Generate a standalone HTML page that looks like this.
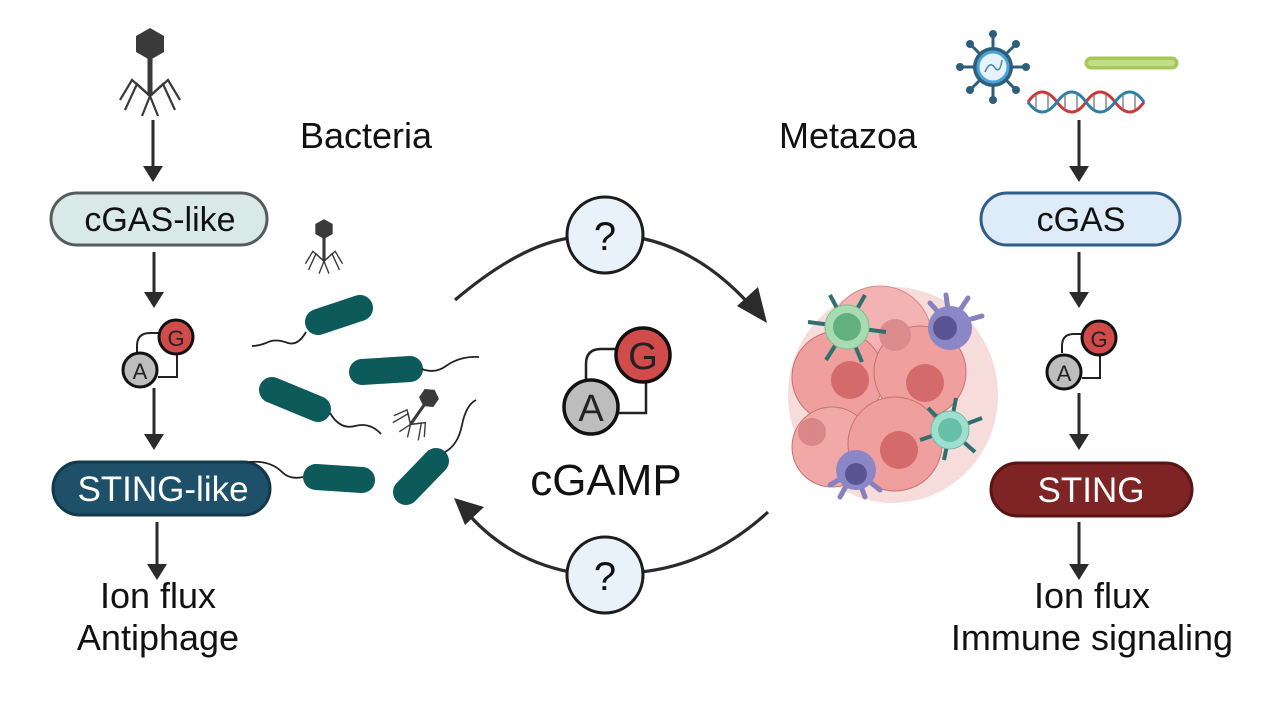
<!DOCTYPE html>
<html><head><meta charset="utf-8"><style>
html,body{margin:0;padding:0;background:#fff;}
svg{display:block;}
text{font-family:"Liberation Sans",Arial,sans-serif;}
</style></head><body>
<svg width="1280" height="720" viewBox="0 0 1280 720" xmlns="http://www.w3.org/2000/svg">
<defs>
<g id="phage">
  <polygon points="0,-16 14,-8 14,8 0,16 -14,8 -14,-8" fill="#3a3a3a"/>
  <rect x="-2.5" y="14" width="5" height="38" fill="#3a3a3a"/>
  <g stroke="#3a3a3a" stroke-width="2.2" fill="none">
    <path d="M0,52 L-18,36 L-30,56"/><path d="M0,52 L-13,40 L-25,66"/><path d="M0,52 L-8,72"/>
    <path d="M0,52 L18,36 L30,56"/><path d="M0,52 L13,40 L25,66"/><path d="M0,52 L8,72"/>
  </g>
</g>
</defs>

<!-- LEFT COLUMN -->
<use href="#phage" transform="translate(150,44)"/>
<g fill="#2b2b2b" stroke="#2b2b2b">
  <line x1="153" y1="120" x2="153" y2="168" stroke-width="3"/>
  <polygon points="143,166 163,166 153,182" stroke="none"/>
  <line x1="154" y1="252" x2="154" y2="294" stroke-width="3"/>
  <polygon points="144,292 164,292 154,308" stroke="none"/>
  <line x1="154" y1="388" x2="154" y2="436" stroke-width="3"/>
  <polygon points="144,434 164,434 154,450" stroke="none"/>
  <line x1="157" y1="522" x2="157" y2="566" stroke-width="3"/>
  <polygon points="147,564 167,564 157,580" stroke="none"/>
</g>
<rect x="51" y="193" width="216" height="52" rx="26" fill="#d9e9e7" stroke="#555c5c" stroke-width="3"/>
<text x="160" y="231" font-size="34" text-anchor="middle" fill="#111">cGAS-like</text>
<!-- small cGAMP left -->
<path d="M137,352 L137,346 Q137,333 150,333 L158,333" fill="none" stroke="#222" stroke-width="2"/>
<path d="M177,355 L177,377 L158,377" fill="none" stroke="#222" stroke-width="2"/>
<circle cx="176" cy="337" r="17" fill="#d14b4b" stroke="#111" stroke-width="3"/>
<text x="176" y="346" font-size="22" text-anchor="middle" fill="#222">G</text>
<circle cx="140" cy="370" r="17" fill="#bdbdbd" stroke="#111" stroke-width="3"/>
<text x="140" y="379" font-size="22" text-anchor="middle" fill="#222">A</text>
<rect x="53" y="462" width="217" height="53" rx="26.5" fill="#1e5069" stroke="#12384a" stroke-width="3"/>
<text x="163" y="501" font-size="35" text-anchor="middle" fill="#fff">STING-like</text>
<text x="158" y="608" font-size="36" text-anchor="middle" fill="#111">Ion flux</text>
<text x="158" y="650" font-size="36" text-anchor="middle" fill="#111">Antiphage</text>

<text x="300" y="148" font-size="36" fill="#111">Bacteria</text>
<text x="779" y="148" font-size="36" fill="#111">Metazoa</text>

<!-- bacteria -->
<g stroke="#0d5a5a" stroke-linecap="round" stroke-width="26">
  <line x1="318" y1="322" x2="360" y2="308"/>
  <line x1="362" y1="372" x2="410" y2="369"/>
  <line x1="272" y1="390" x2="318" y2="409"/>
  <line x1="316" y1="477" x2="362" y2="480"/>
  <line x1="406" y1="492" x2="436" y2="461"/>
</g>
<g stroke="#222" stroke-width="1.8" fill="none">
  <path d="M306,332 Q298,346 288,343 Q275,338 266,343 Q258,346 252,346"/>
  <path d="M422,369 Q435,374 446,366 Q460,356 479,357"/>
  <path d="M330,413 Q340,430 355,426 Q370,422 381,434"/>
  <path d="M303,477 Q290,480 282,472 Q270,460 249,462"/>
  <path d="M445,452 Q458,445 462,425 Q466,405 476,400"/>
</g>
<use href="#phage" transform="translate(324,229) scale(0.62)"/>
<use href="#phage" transform="translate(429,398) rotate(35) scale(0.62)"/>

<!-- center cycle -->
<path d="M455,300 Q520,245 570,238" fill="none" stroke="#2b2b2b" stroke-width="3.2"/>
<path d="M640,238 Q700,250 750,305" fill="none" stroke="#2b2b2b" stroke-width="3.2"/>
<polygon points="767,323 737,306 758,287" fill="#2b2b2b"/>
<path d="M768,512 Q710,565 640,572" fill="none" stroke="#2b2b2b" stroke-width="3.2"/>
<path d="M570,572 Q510,560 470,516" fill="none" stroke="#2b2b2b" stroke-width="3.2"/>
<polygon points="454,498 484,507 465,525" fill="#2b2b2b"/>
<circle cx="605" cy="235" r="38" fill="#e9f2fb" stroke="#1c1c1c" stroke-width="3"/>
<text x="605" y="250" font-size="40" text-anchor="middle" fill="#111">?</text>
<circle cx="605" cy="575" r="38" fill="#e9f2fb" stroke="#1c1c1c" stroke-width="3"/>
<text x="605" y="590" font-size="40" text-anchor="middle" fill="#111">?</text>

<!-- big cGAMP -->
<path d="M586,380 L586,364 Q586,349 601,349 L616,349" fill="none" stroke="#222" stroke-width="2.5"/>
<path d="M646,382 L646,413 L619,413" fill="none" stroke="#222" stroke-width="2.5"/>
<circle cx="643" cy="355" r="27" fill="#d14b4b" stroke="#111" stroke-width="3.5"/>
<text x="643" y="369" font-size="38" text-anchor="middle" fill="#222">G</text>
<circle cx="591" cy="407" r="27" fill="#bdbdbd" stroke="#111" stroke-width="3.5"/>
<text x="591" y="421" font-size="38" text-anchor="middle" fill="#222">A</text>
<text x="606" y="495" font-size="44" text-anchor="middle" fill="#111">cGAMP</text>

<!-- tumor cluster -->
<g>
  <ellipse cx="893" cy="395" rx="105" ry="108" fill="#f7dcdc"/>
  <circle cx="880" cy="338" r="52" fill="#f3b3b2" stroke="#d88" stroke-width="1"/>
  <circle cx="838" cy="377" r="46" fill="#ef9f9e" stroke="#c87070" stroke-width="1"/>
  <circle cx="920" cy="372" r="46" fill="#ef9f9e" stroke="#c87070" stroke-width="1"/>
  <circle cx="832" cy="447" r="40" fill="#f1a9a8" stroke="#c87070" stroke-width="1"/>
  <circle cx="895" cy="444" r="47" fill="#ef9f9e" stroke="#c87070" stroke-width="1"/>
  <circle cx="850" cy="380" r="19" fill="#d46a6a"/>
  <circle cx="925" cy="383" r="19" fill="#d46a6a"/>
  <circle cx="899" cy="450" r="19" fill="#d46a6a"/>
  <circle cx="812" cy="432" r="14" fill="#d98686"/>
  <circle cx="895" cy="335" r="16" fill="#dc8c8c"/>
  <g stroke="#2e6f70" stroke-width="4">
    <line x1="847" y1="327" x2="830" y2="295"/><line x1="847" y1="327" x2="865" y2="295"/>
    <line x1="847" y1="327" x2="808" y2="322"/><line x1="847" y1="327" x2="886" y2="332"/>
    <line x1="847" y1="327" x2="826" y2="360"/><line x1="847" y1="327" x2="862" y2="362"/>
  </g>
  <circle cx="847" cy="327" r="22" fill="#a8dcb0" stroke="#7fbf8f" stroke-width="1"/>
  <circle cx="847" cy="327" r="14" fill="#62b07e"/>
  <g stroke="#8880c0" stroke-width="5" stroke-linecap="round">
    <line x1="950" y1="325" x2="930" y2="303"/><line x1="950" y1="325" x2="946" y2="295"/>
    <line x1="950" y1="325" x2="968" y2="298"/><line x1="950" y1="325" x2="982" y2="316"/>
    <line x1="855" y1="470" x2="830" y2="485"/><line x1="855" y1="470" x2="840" y2="497"/>
    <line x1="855" y1="470" x2="865" y2="497"/><line x1="855" y1="470" x2="880" y2="490"/>
  </g>
  <circle cx="950" cy="328" r="22" fill="#8b87c7"/>
  <circle cx="945" cy="328" r="12" fill="#5a5592"/>
  <circle cx="856" cy="470" r="20" fill="#8b87c7"/>
  <circle cx="856" cy="474" r="11" fill="#5a5592"/>
  <g stroke="#2e6f70" stroke-width="4">
    <line x1="950" y1="430" x2="928" y2="408"/><line x1="950" y1="430" x2="956" y2="398"/>
    <line x1="950" y1="430" x2="982" y2="418"/><line x1="950" y1="430" x2="975" y2="452"/>
    <line x1="950" y1="430" x2="944" y2="460"/><line x1="950" y1="430" x2="920" y2="440"/>
  </g>
  <circle cx="950" cy="430" r="19" fill="#9ee0cf" stroke="#6cbca8" stroke-width="1"/>
  <circle cx="950" cy="430" r="12" fill="#68bfa7"/>
</g>

<!-- RIGHT COLUMN -->
<g stroke="#2f5e7a" stroke-width="3">
  <line x1="993" y1="67" x2="993" y2="34"/><line x1="993" y1="67" x2="993" y2="100"/>
  <line x1="993" y1="67" x2="960" y2="67"/><line x1="993" y1="67" x2="1026" y2="67"/>
  <line x1="993" y1="67" x2="970" y2="44"/><line x1="993" y1="67" x2="1016" y2="44"/>
  <line x1="993" y1="67" x2="970" y2="90"/><line x1="993" y1="67" x2="1016" y2="90"/>
</g>
<g fill="#2f5e7a">
  <circle cx="993" cy="34" r="4"/><circle cx="993" cy="100" r="4"/><circle cx="960" cy="67" r="4"/><circle cx="1026" cy="67" r="4"/>
  <circle cx="970" cy="44" r="4"/><circle cx="1016" cy="44" r="4"/><circle cx="970" cy="90" r="4"/><circle cx="1016" cy="90" r="4"/>
</g>
<circle cx="993" cy="67" r="20" fill="#2f5e7a"/>
<circle cx="993" cy="67" r="15" fill="#e6f3fb" stroke="#4aa3d8" stroke-width="3"/>
<path d="M985,72 Q990,60 995,68 Q1000,74 1002,60" fill="none" stroke="#4a86b0" stroke-width="1.5"/>
<line x1="1091" y1="63" x2="1172" y2="63" stroke="#a5c95a" stroke-width="13" stroke-linecap="round"/>
<line x1="1091" y1="63" x2="1172" y2="63" stroke="#c3de8a" stroke-width="6" stroke-linecap="round"/>
<path d="M1028,102 Q1042,82 1057,102 T1086,102 T1115,102 T1144,102" fill="none" stroke="#c83a3a" stroke-width="3"/>
<path d="M1028,102 Q1042,122 1057,102 T1086,102 T1115,102 T1144,102" fill="none" stroke="#2e7fa8" stroke-width="3"/>
<g stroke="#888" stroke-width="1.5">
  <line x1="1036" y1="95" x2="1036" y2="109"/><line x1="1048" y1="95" x2="1048" y2="109"/>
  <line x1="1065" y1="95" x2="1065" y2="109"/><line x1="1077" y1="95" x2="1077" y2="109"/>
  <line x1="1094" y1="95" x2="1094" y2="109"/><line x1="1106" y1="95" x2="1106" y2="109"/>
  <line x1="1123" y1="95" x2="1123" y2="109"/><line x1="1135" y1="95" x2="1135" y2="109"/>
</g>
<g fill="#2b2b2b" stroke="#2b2b2b">
  <line x1="1079" y1="120" x2="1079" y2="168" stroke-width="3"/>
  <polygon points="1069,166 1089,166 1079,182" stroke="none"/>
  <line x1="1079" y1="252" x2="1079" y2="294" stroke-width="3"/>
  <polygon points="1069,292 1089,292 1079,308" stroke="none"/>
  <line x1="1079" y1="393" x2="1079" y2="436" stroke-width="3"/>
  <polygon points="1069,434 1089,434 1079,450" stroke="none"/>
  <line x1="1079" y1="522" x2="1079" y2="566" stroke-width="3"/>
  <polygon points="1069,564 1089,564 1079,580" stroke="none"/>
</g>
<rect x="981" y="193" width="199" height="52" rx="26" fill="#deebf8" stroke="#2f5e8a" stroke-width="3"/>
<text x="1081" y="231" font-size="34" text-anchor="middle" fill="#111">cGAS</text>
<path d="M1062,353 L1062,346 Q1062,334 1074,334 L1081,334" fill="none" stroke="#222" stroke-width="2"/>
<path d="M1100,356 L1100,378 L1082,378" fill="none" stroke="#222" stroke-width="2"/>
<circle cx="1099" cy="338" r="17" fill="#d14b4b" stroke="#111" stroke-width="3"/>
<text x="1099" y="347" font-size="22" text-anchor="middle" fill="#222">G</text>
<circle cx="1064" cy="372" r="17" fill="#bdbdbd" stroke="#111" stroke-width="3"/>
<text x="1064" y="381" font-size="22" text-anchor="middle" fill="#222">A</text>
<rect x="991" y="463" width="201" height="53" rx="26.5" fill="#7e2424" stroke="#5a1414" stroke-width="3"/>
<text x="1091" y="502" font-size="35" text-anchor="middle" fill="#fff">STING</text>
<text x="1092" y="608" font-size="36" text-anchor="middle" fill="#111">Ion flux</text>
<text x="1092" y="650" font-size="36" text-anchor="middle" fill="#111">Immune signaling</text>
</svg>
</body></html>
